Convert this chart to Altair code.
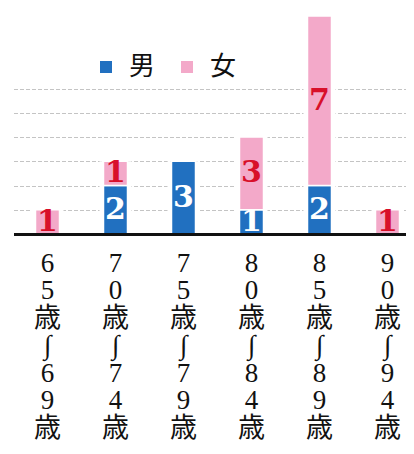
import altair as alt
import pandas as pd

ages = ["65歳〜69歳", "70歳〜74歳", "75歳〜79歳", "80歳〜84歳", "85歳〜89歳", "90歳〜94歳"]
sexes = ["男", "女"]
male = [0, 2, 3, 1, 2, 0]
female = [1, 1, 0, 3, 7, 1]
colors = ["#2170c0", "#f3a9c9"]
text_colors = ["#ffffff", "#d8102a"]

rows = []
for i, a in enumerate(ages):
    rows.append({"age": a, "sex": sexes[0], "idx": 0, "count": male[i]})
    rows.append({"age": a, "sex": sexes[1], "idx": 1, "count": female[i]})
df = pd.DataFrame(rows)

FONT_SERIF = "Liberation Serif, Noto Sans CJK JP"

x_enc = alt.X(
    "age:N",
    sort=ages,
    scale=alt.Scale(range=[-0.5, 407.5], paddingInner=0, paddingOuter=0),
    axis=alt.Axis(
        title=None,
        labelAngle=0,
        labelExpr="split(replace(datum.label, '〜', '∫'), '')",
        labelFont=FONT_SERIF,
        labelFontSize=27,
        labelLineHeight=27.5,
        labelColor="#111111",
        labelPadding=16,
        labelBaseline="top",
        ticks=False,
        domain=True,
        domainColor="#111111",
        domainWidth=3,
        zindex=1,
    ),
)

y_enc = alt.Y(
    "count:Q",
    stack="zero",
    scale=alt.Scale(domain=[0, 9], nice=False),
    axis=alt.Axis(
        title=None,
        values=[1, 2, 3, 4, 5, 6],
        labels=False,
        ticks=False,
        domain=False,
        grid=True,
        gridColor="#c4c4c4",
        gridDash=[4, 2],
        gridWidth=1,
    ),
)

halo = alt.Chart(df).mark_bar(size=32, color="white").encode(
    x=x_enc,
    y=y_enc,
    order=alt.Order("idx:Q"),
)

bars = alt.Chart(df).mark_bar(size=24, stroke="white", strokeWidth=1.5).encode(
    x=x_enc,
    y=y_enc,
    color=alt.Color(
        "sex:N",
        scale=alt.Scale(domain=sexes, range=colors),
        legend=alt.Legend(
            title=None,
            orient="none",
            legendX=79,
            legendY=38,
            direction="horizontal",
            symbolType="square",
            symbolSize=144,
            symbolStrokeWidth=0,
            labelFont="Noto Sans CJK JP",
            labelFontSize=26,
            labelColor="#111111",
            labelOffset=10,
            columnPadding=18,
        ),
    ),
    order=alt.Order("idx:Q"),
)

labels = (
    alt.Chart(df)
    .transform_filter("datum.count > 0")
    .transform_stack(
        stack="count",
        groupby=["age"],
        as_=["y0", "y1"],
        sort=[alt.SortField("idx", order="ascending")],
    )
    .transform_calculate(mid="(datum.y0 + datum.y1) / 2")
    .mark_text(font="DejaVu Serif", fontWeight="bold", fontSize=30, baseline="middle")
    .encode(
        x=alt.X("age:N", sort=ages),
        y=alt.Y("mid:Q"),
        text=alt.Text("count:Q"),
        color=alt.Color("sex:N", scale=alt.Scale(domain=sexes, range=text_colors), legend=None),
    )
)

chart = (
    alt.layer(halo, bars, labels)
    .resolve_scale(color="independent")
    .properties(
        width=392,
        height=218,
        padding={"left": 6, "top": 8, "right": 0, "bottom": 212},
        autosize=alt.AutoSizeParams(type="none"),
    )
    .configure_view(stroke=None)
)

chart.save("out.html", embed_options={"renderer": "svg", "actions": False})
